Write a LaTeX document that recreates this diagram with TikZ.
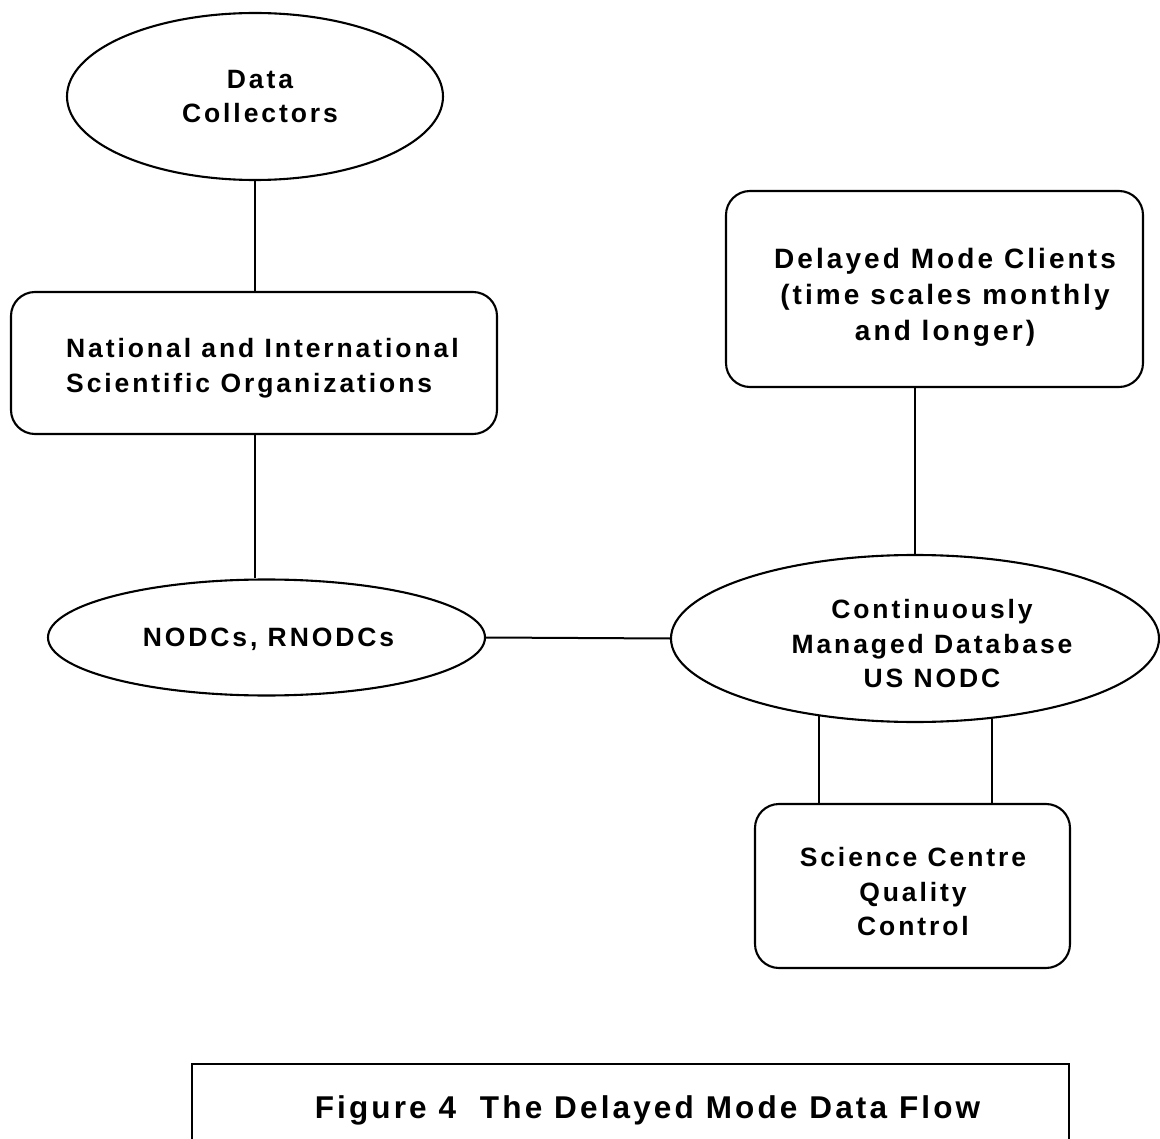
\documentclass[tikz,border=0pt]{standalone}
\usepackage{fontspec}
\newfontfamily\lblfam{Liberation Sans}[LetterSpace=11]
\newfontfamily\capfam{Liberation Sans}[LetterSpace=10]
\usetikzlibrary{shapes.geometric}
\begin{document}
\begin{tikzpicture}[x=1pt,y=-1pt,
  shapeline/.style={draw, line width=2.1pt, inner sep=0pt},
  oval/.style={shapeline, ellipse},
  rbox/.style={shapeline, rectangle, rounded corners=24pt},
  lbl/.style={font=\lblfam\bfseries\fontsize{26.5pt}{34.5pt}\selectfont, inner sep=0pt, align=center},
  lblbig/.style={font=\lblfam\bfseries\fontsize{28pt}{36pt}\selectfont, inner sep=0pt, align=center},
  captext/.style={font=\capfam\bfseries\fontsize{31.5pt}{36pt}\selectfont, inner sep=0pt},
  link/.style={line width=2pt}]
\useasboundingbox (0,0) rectangle (1160,1139);
\fill[white] (0,0) rectangle (1160,1139);

% shapes
\node[oval, minimum width=376pt, minimum height=167pt] (dc) at (255,96.5) {};
\node[rbox, minimum width=486pt, minimum height=142pt] (orgs) at (254,363) {};
\node[oval, minimum width=437pt, minimum height=116pt] (nodcs) at (266.5,637.5) {};
\node[rbox, minimum width=417pt, minimum height=196pt] (clients) at (934.5,289) {};
\node[oval, minimum width=488pt, minimum height=167pt] (cmd) at (915,638.5) {};
\node[rbox, minimum width=315pt, minimum height=164pt] (sci) at (912.5,886) {};

% texts (anchor base = baseline of the last line)
\node[lbl, anchor=base] (dctext) at (260,123) {Data\\Collectors};
\node[lbl, anchor=base west, align=left] (orgstext) at (66,392.5) {National and International\\Scientific Organizations};
\node[lbl, anchor=base] (nodcstext) at (268.5,646.5) {NODCs, RNODCs};
\node[lblbig, anchor=base] (clientstext) at (945,341) {Delayed Mode Clients\\(time scales monthly\\and longer)};
\node[lbl, anchor=base] (cmdtext) at (932,687.5) {Continuously\\Managed Database\\US NODC};
\node[lbl, anchor=base] (scitext) at (913,935.5) {Science Centre\\Quality\\Control};

% connectors
\draw[link] (dc.south) -- (dc.south |- orgs.north);
\draw[link] (orgs.south -| dc.south) -- (nodcs.north -| dc.south);
\draw[link] (nodcs.east) -- (cmd.west);
\draw[link] (cmd.north |- clients.south) -- (cmd.north);
\draw[link] (cmd.219.7) -- (cmd.219.7 |- sci.north);
\draw[link] (cmd.314.2) -- (cmd.314.2 |- sci.north);

% caption frame (open at the bottom edge)
\coordinate (capL) at (192,1139);
\coordinate (capTR) at (1069,1064);
\coordinate (capR) at (1069,1139);
\draw[link] (capL) |- (capTR) -- (capR);
\node[captext, anchor=base] (cap) at (647.5,1118) {Figure 4~~The Delayed Mode Data Flow};
\end{tikzpicture}
\end{document}
